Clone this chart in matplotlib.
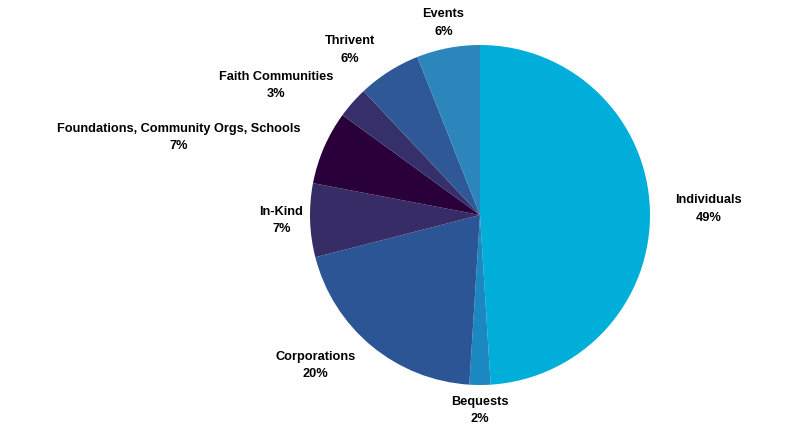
import numpy as np
import matplotlib
matplotlib.use("Agg")
import matplotlib.pyplot as plt

# slices go clockwise from 12 o'clock
labels = ["Individuals", "Bequests", "Corporations", "In-Kind",
          "Foundations, Community Orgs, Schools", "Faith Communities",
          "Thrivent", "Events"]
shares = [49, 2, 20, 7, 7, 3, 6, 6]
colors = ["#00AEDA", "#1B88C2", "#2B5594", "#372C66",
          "#29003A", "#35306A", "#2F5896", "#2C86BC"]

fig = plt.figure(figsize=(8, 4.33), dpi=100)
ax = fig.add_axes([0, 0, 1, 1])

wedges, _ = ax.pie(shares, colors=colors, startangle=90, counterclock=False,
                   radius=1, wedgeprops=dict(linewidth=0))

# labels outside, like the excel "best fit" placement
for w, lab, s in zip(wedges, labels, shares):
    ang = np.deg2rad((w.theta1 + w.theta2) / 2)
    d = 1.04 if lab == "In-Kind" else 1.15
    x, y = d * np.cos(ang), d * np.sin(ang)
    if abs(np.cos(ang)) < 0.3:
        ha = "center"
    elif x > 0:
        ha = "left"
    else:
        ha = "right"
    ax.text(x, y, f"{lab}\n{s}%", ha=ha, va="center", multialignment="center",
            fontsize=9.2, fontweight="bold", family="Liberation Sans",
            linespacing=1.6, color="black")

# figure is 800x433 px, pie centre at (480, 215), radius 170 px
ax.set_xlim(-480 / 170, 320 / 170)
ax.set_ylim(-(433 - 215) / 170, 215 / 170)
ax.set_aspect("auto")
ax.axis("off")

fig.savefig("out.png", dpi=100)
